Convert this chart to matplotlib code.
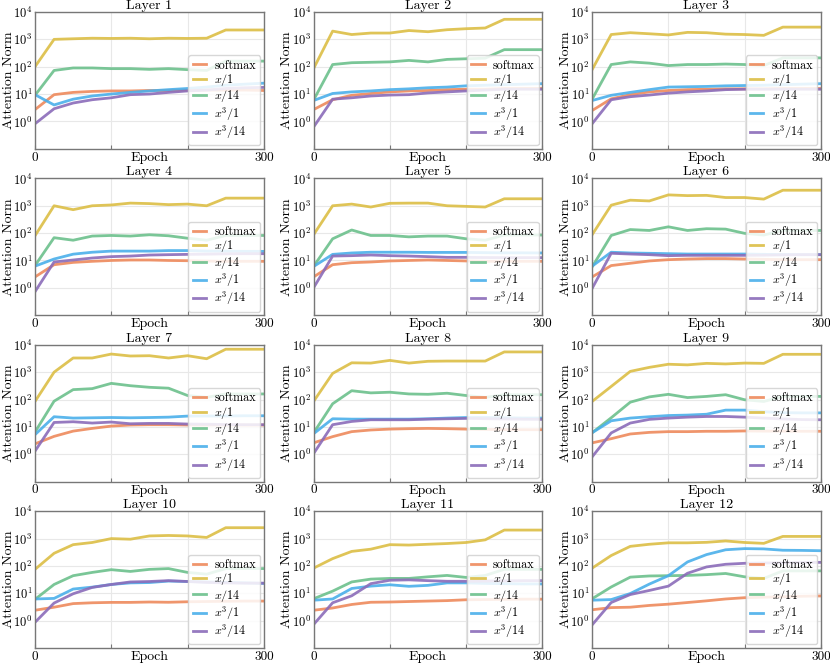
import matplotlib
matplotlib.use("Agg")
import matplotlib.pyplot as plt
from matplotlib.gridspec import GridSpec
from matplotlib.ticker import FixedLocator, NullLocator, LogFormatterSciNotation

plt.rcParams['font.family'] = ['cmr10', 'DejaVu Serif']
plt.rcParams['mathtext.fontset'] = 'cm'
plt.rcParams['axes.formatter.use_mathtext'] = True

epochs = [0, 25, 50, 75, 100, 125, 150, 175, 200, 225, 250, 275, 300]
layer_titles = [f"Layer {i}" for i in range(1, 13)]
series_labels = ["softmax", "$x/1$", "$x/14$", "$x^3/1$", "$x^3/14$"]
series_colors = ["#EE8A5C", "#DCBE45", "#6CC08C", "#4AAFEA", "#8B6CB9"]

softmax = [
    [2.7, 9.5, 11.5, 12.5, 13, 13, 13.5, 13.5, 14, 14, 14, 14, 13.5],
    [2.7, 6.2, 9, 10.5, 12, 13, 13.5, 14.5, 15, 15, 16, 16, 16],
    [2.5, 6.7, 9.5, 12, 13.5, 14.5, 15, 15.5, 15.5, 15.5, 16, 16, 16],
    [2.5, 7, 8.5, 9.3, 10, 10.4, 10.4, 10, 9.8, 9.5, 9.3, 9.3, 9.3],
    [2.5, 7, 8.3, 8.8, 9.6, 10, 10.4, 10, 9.6, 9.3, 9.3, 9.3, 9.3],
    [2.5, 6.5, 7.9, 9.6, 10.7, 11.3, 11.7, 11.7, 11.3, 11, 10.8, 10.7, 10.7],
    [2.4, 4.5, 7, 8.8, 10.7, 11.7, 12, 12, 11.7, 11.7, 11.7, 11.7, 11.7],
    [2.6, 4.4, 6.7, 7.7, 8.3, 8.6, 8.8, 8.6, 8.3, 8.1, 8, 7.9, 7.9],
    [2.6, 3.7, 5.5, 6.3, 6.7, 6.7, 6.9, 6.9, 7.1, 7, 7, 6.9, 6.9],
    [2.4, 3.1, 4.2, 4.5, 4.65, 4.65, 4.8, 4.7, 4.9, 5, 5.1, 5.2, 5.2],
    [2.4, 2.9, 3.9, 4.7, 4.8, 5.0, 5.2, 5.4, 5.8, 5.9, 6, 6.1, 6.1],
    [2.5, 3.0, 3.1, 3.6, 4.0, 4.6, 5.3, 6.2, 6.9, 7.2, 7.5, 7.8, 8],
]

x_over_1 = [
    [100, 1000, 1050, 1100, 1080, 1100, 1050, 1100, 1080, 1100, 2200, 2200, 2200],
    [85, 2000, 1500, 1700, 1700, 2100, 1900, 2250, 2450, 2600, 5400, 5400, 5400],
    [78, 1500, 1750, 1600, 1450, 1800, 1750, 1550, 1500, 1400, 2800, 2800, 2800],
    [80, 1000, 720, 1000, 1070, 1250, 1200, 1100, 1150, 1000, 1900, 1900, 1900],
    [87, 1000, 1150, 900, 1230, 1250, 1250, 1000, 950, 900, 1800, 1800, 1800],
    [87, 1050, 1600, 1500, 2500, 2350, 2400, 2000, 2000, 1750, 3700, 3700, 3700],
    [85, 1000, 3300, 3300, 4600, 3900, 4000, 3300, 4000, 3100, 6900, 6900, 6900],
    [85, 900, 2200, 2150, 2700, 2150, 2500, 2550, 2550, 2550, 5500, 5500, 5500],
    [85, 300, 1070, 1500, 1950, 1850, 2100, 2000, 2150, 2100, 4500, 4500, 4500],
    [75, 290, 600, 720, 1000, 950, 1250, 1300, 1250, 1100, 2500, 2500, 2500],
    [83, 185, 340, 410, 600, 580, 620, 660, 720, 900, 2050, 2050, 2050],
    [83, 240, 520, 620, 700, 700, 730, 820, 720, 670, 1200, 1200, 1200],
]

x_over_14 = [
    [9, 73, 90, 90, 85, 85, 80, 85, 78, 73, 160, 160, 160],
    [6, 120, 140, 145, 150, 170, 150, 185, 195, 205, 420, 420, 420],
    [6.5, 120, 150, 135, 110, 120, 120, 125, 120, 110, 210, 210, 210],
    [6.5, 68, 55, 78, 82, 78, 87, 80, 65, 55, 82, 82, 82],
    [6.1, 62, 130, 82, 82, 73, 78, 78, 62, 55, 85, 85, 85],
    [5.8, 82, 135, 125, 170, 125, 145, 140, 98, 85, 125, 125, 125],
    [6.5, 87, 230, 250, 390, 320, 280, 260, 140, 120, 160, 160, 160],
    [6, 70, 210, 175, 185, 160, 155, 170, 140, 120, 150, 150, 150],
    [6.1, 21.5, 80, 125, 155, 118, 130, 150, 98, 85, 130, 130, 130],
    [6, 21, 44, 58, 73, 63, 75, 80, 58, 50, 80, 80, 80],
    [6.3, 12, 26, 33, 35, 35, 40, 45, 38, 45, 75, 75, 75],
    [6.3, 17, 39, 43, 44, 45, 48, 53, 40, 35, 66, 66, 66],
]

x3_over_1 = [
    [9.5, 4, 6.5, 8.5, 10, 11.5, 13, 14.5, 16, 18, 21, 23, 25],
    [5.8, 10.5, 12, 13, 14.5, 15.5, 17, 18, 20, 21, 22, 23, 24],
    [5.8, 9, 11.5, 14.5, 18, 18.5, 19, 20, 20.5, 21, 22, 23, 24],
    [6.2, 11.3, 17, 20, 22, 22, 22, 23, 23, 22, 22, 21.5, 21.5],
    [6, 16.7, 18.8, 20, 20, 20, 19.7, 19.7, 19.7, 19.3, 19, 19, 18.8],
    [6.2, 20, 18.8, 18.3, 17.7, 17.2, 17.2, 17.2, 17.2, 16.7, 16.5, 16.3, 16.3],
    [5.2, 23.5, 21, 21.5, 22, 21.5, 22, 22.7, 24.8, 25, 25, 25.5, 25.5],
    [5.6, 19.8, 19.2, 19.2, 19.2, 19.2, 19.8, 21, 22, 22, 21.5, 21, 21],
    [6.1, 16.7, 21, 23.5, 26, 27, 29, 41, 41, 36, 33, 32.5, 32.5],
    [6.2, 6.5, 14.3, 16.8, 21, 24, 24.7, 28, 27, 26, 25, 24, 23],
    [5.6, 6.2, 15, 18.3, 20.5, 18, 19.5, 24, 24, 23, 22.5, 22, 22],
    [5.6, 5.9, 9.8, 21.7, 44, 140, 260, 390, 430, 420, 375, 370, 360],
]

x3_over_14 = [
    [0.82, 2.9, 4.7, 6.2, 7.3, 9.5, 10, 11.5, 13, 14, 16, 17, 17.5],
    [0.62, 6.5, 7.3, 8.5, 9.2, 9.5, 11, 12, 13, 14, 15, 15, 15],
    [0.82, 6.2, 8, 9.2, 10.8, 12, 13, 14.5, 15, 15, 15, 15, 15],
    [0.72, 8.8, 10.4, 12.3, 13.8, 14.5, 15.8, 16.3, 16.7, 17, 17.5, 17.7, 17.7],
    [1.0, 14.5, 15, 15.8, 15, 14.5, 13.8, 13, 13, 12.8, 12.7, 12.7, 12.7],
    [0.95, 18.3, 17.2, 16.3, 15, 15.4, 15.4, 15.4, 15.4, 15.6, 16, 16.3, 16.3],
    [1.3, 14.5, 15.4, 13.8, 15, 13, 13.4, 13.4, 12.7, 12.5, 12.2, 12, 12],
    [1.05, 12, 15.8, 18.2, 18.2, 18.2, 19.2, 19.8, 20.4, 20, 19.5, 19, 18.8],
    [0.8, 6, 13.8, 18.8, 21, 22.7, 24, 24, 22.7, 21, 19.5, 18.5, 18.2],
    [0.87, 4.4, 9.6, 16.4, 21, 26, 27, 29, 27, 25, 24, 23.5, 23.5],
    [0.72, 4.5, 8.1, 22.5, 30, 31, 29, 27.5, 27.5, 28, 28.5, 29, 29],
    [0.7, 4.6, 9, 12.7, 18.3, 54, 92, 115, 125, 128, 130, 133, 135],
]

all_series = [softmax, x_over_1, x_over_14, x3_over_1, x3_over_14]

fig = plt.figure(figsize=(8.3, 6.64), dpi=100)
gs = GridSpec(4, 3, figure=fig, left=35/830, right=821/830,
              top=1 - 12/664, bottom=1 - 648/664, wspace=0.217, hspace=0.2168)

for i in range(12):
    ax = fig.add_subplot(gs[i // 3, i % 3])
    for s, lab, col in zip(all_series, series_labels, series_colors):
        ax.plot(epochs, s[i], color=col, lw=2.0, alpha=0.9, label=lab,
                solid_joinstyle='round')
    ax.set_yscale('log')
    ax.set_ylim(0.1, 1e4)
    ax.set_xlim(0, 300)
    ax.yaxis.set_major_locator(FixedLocator([1, 10, 100, 1000, 10000]))
    ax.yaxis.set_minor_locator(NullLocator())
    ax.yaxis.set_major_formatter(LogFormatterSciNotation())
    ax.set_xticks([0, 100, 200, 300])
    ax.set_xticklabels(['0', '', '', '300'])
    ax.grid(True, color='#e8e8e8', lw=0.8)
    ax.set_axisbelow(True)
    for sp in ax.spines.values():
        sp.set_color('#777777')
        sp.set_linewidth(1.0)
    ax.tick_params(axis='x', direction='in', length=3, color='#777777',
                   labelsize=9.5, pad=2)
    ax.tick_params(axis='y', length=0, labelsize=9, pad=2)
    ax.set_title(layer_titles[i], fontsize=10, pad=2)
    ax.set_xlabel('Epoch', fontsize=10, labelpad=-8.5)
    ax.set_ylabel('Attention Norm', fontsize=10)
    ax.yaxis.set_label_coords(-0.088, 0.5)
    leg = ax.legend(loc='lower right', fontsize=8.7, handlelength=1.1,
                    borderaxespad=0.3, framealpha=0.85, labelspacing=0.03,
                    handletextpad=0.7, borderpad=0.35)
    leg.get_frame().set_edgecolor('#d0d0d0')

fig.savefig('out.png', dpi=100)
